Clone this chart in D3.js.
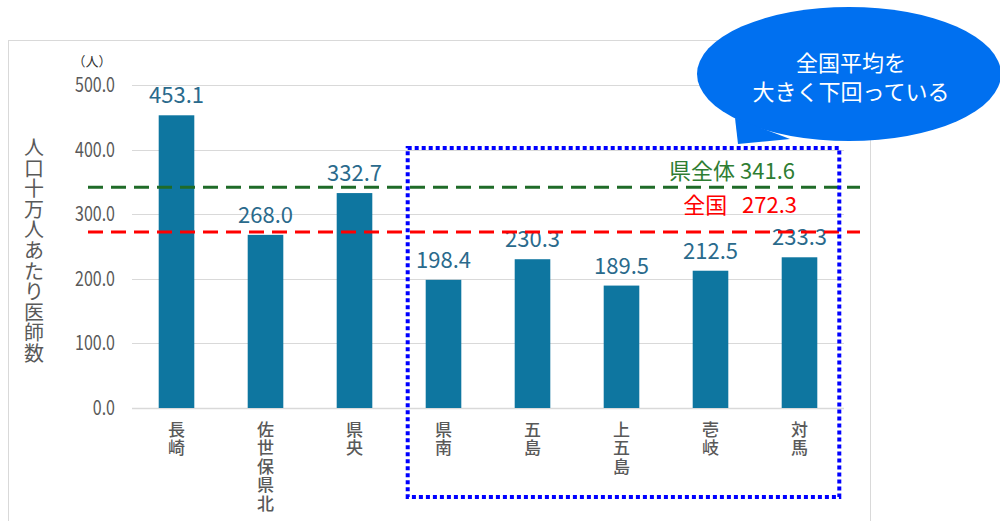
<!DOCTYPE html>
<html>
<head>
<meta charset="utf-8">
<script src="https://cdn.jsdelivr.net/npm/d3@7"></script>
<style>
  body { margin: 0; background: #fff; }
  svg text { font-family: "Noto Sans CJK JP", "Noto Sans", sans-serif; }
</style>
</head>
<body>
<div id="chart"></div>
<script>
// data
const areas = ['長崎', '佐世保県北', '県央', '県南', '五島', '上五島', '壱岐', '対馬'];
const doctors = [453.1, 268.0, 332.7, 198.4, 230.3, 189.5, 212.5, 233.3];
const yTicks = [0, 100, 200, 300, 400, 500];
const prefAvg = 341.6;
const nationalAvg = 272.3;
const boxedAreas = ['県南', '対馬'];   // first and last area inside the dotted box
const yTitle = '人口十万人あたり医師数';
const bubbleLines = ['全国平均を', '大きく下回っている'];

const width = 1000, height = 521;
const margin = { top: 85, right: 156, bottom: 113, left: 132 };

const svg = d3.select('#chart').append('svg')
    .attr('width', width)
    .attr('height', height);

// outer frame
svg.append('rect')
    .attr('x', 8.5).attr('y', 40.5)
    .attr('width', 862).attr('height', 500)
    .attr('fill', 'none')
    .attr('stroke', '#d9d9d9');

const x = d3.scaleBand()
    .domain(areas)
    .range([margin.left, width - margin.right])
    .paddingInner(0.6)
    .paddingOuter(0.3);

const y = d3.scaleLinear()
    .domain([0, 500])
    .range([height - margin.bottom, margin.top]);

// gridlines
svg.append('g')
    .selectAll('line')
    .data(yTicks)
    .join('line')
    .attr('x1', margin.left)
    .attr('x2', width - margin.right)
    .attr('y1', d => Math.round(y(d)) + 0.5)
    .attr('y2', d => Math.round(y(d)) + 0.5)
    .attr('stroke', '#d9d9d9')
    .attr('stroke-width', d => d === 0 ? 1.5 : 1);

// y tick labels (narrow, like the original font)
svg.append('g')
    .attr('transform', `translate(${115 * 0.2},0) scale(0.8,1)`)
    .selectAll('text')
    .data(yTicks)
    .join('text')
    .attr('x', 115)
    .attr('y', d => y(d))
    .attr('dy', '0.35em')
    .attr('text-anchor', 'end')
    .attr('fill', '#595959')
    .attr('font-size', 20)
    .text(d => d3.format('.1f')(d));

svg.append('text')
    .attr('x', 92).attr('y', 66)
    .attr('text-anchor', 'middle')
    .attr('fill', '#333')
    .attr('font-size', 13)
    .text('（人）');

// y title, one character per row
svg.append('g')
    .selectAll('text')
    .data(Array.from(yTitle))
    .join('text')
    .attr('x', 34)
    .attr('y', (d, i) => 148 + i * 20.6)
    .attr('dy', '0.35em')
    .attr('text-anchor', 'middle')
    .attr('fill', '#595959')
    .attr('font-size', 20)
    .text(d => d);

// bars
svg.append('g')
    .selectAll('rect')
    .data(areas)
    .join('rect')
    .attr('x', d => x(d))
    .attr('width', x.bandwidth())
    .attr('y', (d, i) => y(doctors[i]))
    .attr('height', (d, i) => y(0) - y(doctors[i]))
    .attr('fill', '#0e76a0');

// value labels
svg.append('g')
    .selectAll('text')
    .data(areas)
    .join('text')
    .attr('x', d => x(d) + x.bandwidth() / 2)
    .attr('y', (d, i) => y(doctors[i]) - 12)
    .attr('text-anchor', 'middle')
    .attr('fill', '#2a6a8c')
    .attr('font-size', 22)
    .text((d, i) => d3.format('.1f')(doctors[i]));

// category labels, one character per row
const cat = svg.append('g');
areas.forEach(a => {
    cat.selectAll(null)
        .data(Array.from(a))
        .join('text')
        .attr('x', x(a) + x.bandwidth() / 2)
        .attr('y', (d, i) => 430 + i * 18.5)
        .attr('dy', '0.35em')
        .attr('text-anchor', 'middle')
        .attr('fill', '#595959')
        .attr('font-size', 17)
        .attr('font-weight', 500)
        .text(d => d);
});

// average lines
const avgLines = [
    { v: prefAvg, color: '#1f6b28' },
    { v: nationalAvg, color: '#ff0000' }
];
svg.append('g')
    .selectAll('line')
    .data(avgLines)
    .join('line')
    .attr('x1', 88).attr('x2', 860)
    .attr('y1', d => y(d.v)).attr('y2', d => y(d.v))
    .attr('stroke', d => d.color)
    .attr('stroke-width', 3)
    .attr('stroke-dasharray', '15,8');

svg.append('text')
    .attr('x', 795).attr('y', y(prefAvg) - 8)
    .attr('text-anchor', 'end')
    .attr('fill', '#2e7d32')
    .attr('font-size', 22)
    .text('県全体 ' + d3.format('.1f')(prefAvg));
svg.append('text')
    .attr('x', 797).attr('y', y(nationalAvg) - 19)
    .attr('text-anchor', 'end')
    .attr('fill', '#ff0000')
    .attr('font-size', 22)
    .style('white-space', 'pre')
    .text('全国   ' + d3.format('.1f')(nationalAvg));

// dotted box round the lower-than-average areas
const bx0 = x(boxedAreas[0]) - 18;
const bx1 = x(boxedAreas[1]) + x.bandwidth() + 22;
svg.append('rect')
    .attr('x', bx0).attr('y', 148)
    .attr('width', bx1 - bx0).attr('height', 349)
    .attr('fill', 'none')
    .attr('stroke', '#0000ff')
    .attr('stroke-width', 4)
    .attr('stroke-dasharray', '4,3');

// speech bubble
const bubble = svg.append('g');
bubble.append('ellipse')
    .attr('cx', 849).attr('cy', 74)
    .attr('rx', 152).attr('ry', 67)
    .attr('fill', '#0070f0');
bubble.append('path')
    .attr('d', 'M735,118 L738,144 L790,139 Z')
    .attr('fill', '#0070f0');
bubble.selectAll('text')
    .data(bubbleLines)
    .join('text')
    .attr('x', 851)
    .attr('y', (d, i) => 63 + i * 29)
    .attr('dy', '0.35em')
    .attr('text-anchor', 'middle')
    .attr('fill', '#fff')
    .attr('font-size', 22)
    .text(d => d);
</script>
</body>
</html>
